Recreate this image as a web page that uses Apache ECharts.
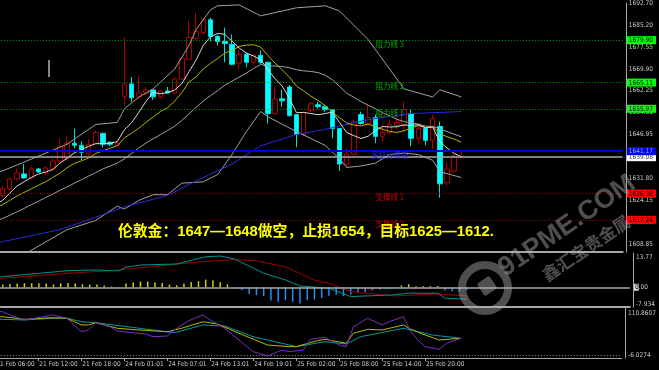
<!DOCTYPE html>
<html><head><meta charset="utf-8">
<script src="https://cdn.jsdelivr.net/npm/echarts@6/dist/echarts.min.js"></script>
<style>html,body{margin:0;padding:0;background:#000;overflow:hidden;width:659px;height:370px;position:relative}#c{position:absolute;left:-20px;top:0;width:679px;height:370px}</style>
</head><body><div id="c"></div>
<script>
// ---------- DATA ----------
const times = ['21 Feb 06:00','21 Feb 07:00','21 Feb 08:00','21 Feb 09:00','21 Feb 10:00','21 Feb 11:00','21 Feb 12:00','21 Feb 13:00','21 Feb 14:00','21 Feb 15:00','21 Feb 16:00','21 Feb 17:00','21 Feb 18:00','21 Feb 19:00','21 Feb 20:00','21 Feb 21:00','21 Feb 22:00','21 Feb 23:00',
'24 Feb 01:01','24 Feb 02:01','24 Feb 03:01','24 Feb 04:01','24 Feb 05:01','24 Feb 06:01','24 Feb 07:01','24 Feb 08:01','24 Feb 09:01','24 Feb 10:01','24 Feb 11:01','24 Feb 12:01','24 Feb 13:01','24 Feb 14:01','24 Feb 15:01','24 Feb 16:01','24 Feb 17:01','24 Feb 18:01','24 Feb 19:01','24 Feb 20:01','24 Feb 21:01','24 Feb 22:01','24 Feb 23:01',
'25 Feb 01:00','25 Feb 02:00','25 Feb 03:00','25 Feb 04:00','25 Feb 05:00','25 Feb 06:00','25 Feb 07:00','25 Feb 08:00','25 Feb 09:00','25 Feb 10:00','25 Feb 11:00','25 Feb 12:00','25 Feb 13:00','25 Feb 14:00','25 Feb 15:00','25 Feb 16:00','25 Feb 17:00','25 Feb 18:00','25 Feb 19:00','25 Feb 20:00','25 Feb 21:00','25 Feb 22:00','25 Feb 23:00',
'26 Feb 00:00','26 Feb 01:00'];
const timeTickLabels = ['21 Feb 06:00','21 Feb 12:00','21 Feb 18:00','24 Feb 01:01','24 Feb 07:01','24 Feb 13:01','24 Feb 19:01','25 Feb 02:00','25 Feb 08:00','25 Feb 14:00','25 Feb 20:00'];

// [open, close, low, high], from 21 Feb 07:00
const ohlc = [
[1625.65,1628.07,1624.96,1629.10],[1628.07,1631.52,1627.38,1631.86],[1631.52,1633.59,1630.83,1634.97],[1633.24,1631.86,1631.52,1636.69],
[1631.86,1634.97,1631.52,1635.65],[1634.97,1633.93,1633.59,1635.31],[1633.59,1635.31,1632.90,1636.00],[1634.97,1637.72,1634.27,1638.41],
[1637.72,1642.89,1637.03,1645.65],[1638.76,1643.93,1637.72,1646.34],[1643.93,1643.24,1642.20,1649.10],[1643.24,1640.82,1638.07,1644.62],
[1640.14,1643.58,1639.45,1645.31],[1643.93,1647.72,1643.58,1648.41],[1647.38,1643.58,1642.55,1647.72],[1644.27,1643.58,1642.89,1644.62],
[1643.24,1643.93,1642.89,1644.27],[1660.13,1664.62,1657.37,1680.82],[1664.62,1659.79,1658.41,1667.03],[1660.13,1661.51,1659.44,1667.37],
[1661.51,1662.55,1660.82,1663.58],[1662.55,1660.13,1659.10,1662.55],[1660.13,1662.20,1659.44,1662.55],[1662.20,1661.51,1661.17,1663.58],
[1661.51,1666.34,1661.17,1667.03],[1666.34,1673.58,1666.00,1673.93],[1673.24,1680.82,1672.89,1686.68],[1680.48,1682.89,1680.13,1689.44],
[1682.55,1687.03,1681.86,1687.72],[1687.03,1681.17,1679.44,1687.72],[1681.17,1679.44,1678.06,1681.86],[1679.44,1678.75,1672.20,1684.27],
[1678.41,1671.51,1671.17,1681.86],[1671.86,1674.96,1669.79,1676.68],[1674.96,1672.20,1670.48,1675.65],[1672.20,1674.62,1671.17,1674.96],
[1674.62,1672.20,1671.51,1676.34],[1672.20,1654.27,1650.82,1672.20],[1654.27,1659.44,1653.93,1663.58],[1659.44,1658.75,1656.69,1662.55],
[1663.58,1653.58,1653.24,1664.27],[1653.93,1647.03,1642.55,1653.93],[1647.03,1654.62,1646.34,1654.96],[1655.31,1657.72,1654.96,1658.41],
[1657.37,1656.69,1656.00,1658.41],[1656.69,1655.65,1654.96,1657.37],[1655.65,1649.10,1645.65,1655.65],[1649.10,1636.69,1634.27,1649.10],
[1636.69,1640.14,1635.31,1642.20],[1640.14,1651.51,1639.79,1652.20],[1653.93,1650.82,1650.48,1654.96],[1650.82,1652.89,1650.48,1657.37],
[1652.89,1646.34,1643.93,1653.93],[1646.34,1647.72,1644.62,1650.48],[1647.72,1650.48,1647.03,1652.20],[1650.13,1651.17,1648.76,1654.27],
[1650.48,1655.65,1648.07,1658.41],[1654.27,1645.65,1642.89,1655.65],[1645.65,1649.10,1643.93,1650.82],[1649.10,1644.96,1643.24,1649.10],
[1644.96,1652.55,1641.86,1653.93],[1649.79,1629.79,1624.96,1651.51],[1630.13,1634.97,1629.10,1637.03],[1634.27,1639.45,1633.59,1640.14],
[1638.90,1639.08,1638.76,1641.17]];

// moving averages (from 21 Feb 06:00)
const ma5 = [1622.5,1624,1626.5,1629,1630.5,1632.0,1633.2,1633.9,1634.8,1637.0,1638.7,1640.6,1641.7,1642.9,1643.8,1643.8,1643.9,1644.5,1648.7,1651.1,1654.7,1658.5,1661.7,1661.2,1661.6,1662.5,1664.7,1668.9,1673.0,1678.1,1681.1,1682.3,1681.9,1679.6,1677.2,1675.4,1674.4,1673.1,1669.7,1666.5,1663.9,1659.7,1654.6,1654.7,1654.3,1653.9,1654.3,1654.8,1651.2,1647.7,1646.6,1645.6,1646.4,1648.3,1649.8,1649.6,1649.7,1650.3,1650.2,1650.4,1649.3,1649.6,1644.4,1642.3,1640.4,1639.2];
const ma10 = [1621.5,1622.5,1624,1625.5,1626.8,1628,1629.3,1630.5,1632,1633.5,1635.4,1636.9,1637.8,1638.8,1640.4,1641.3,1642.2,1643.1,1645.8,1647.5,1649.2,1651.2,1653.1,1655.0,1656.3,1658.6,1661.6,1665.3,1667.1,1669.9,1671.8,1673.5,1675.4,1676.3,1677.7,1678.2,1678.3,1677.5,1674.6,1671.9,1669.6,1667.0,1663.9,1662.2,1660.4,1658.9,1657.0,1654.7,1652.9,1651.0,1650.3,1650.0,1650.6,1649.8,1648.8,1648.1,1647.7,1648.3,1649.2,1650.1,1649.5,1649.7,1647.4,1646.2,1645.4,1644.3];
const bbMid = [1616.8,1617.7,1618.8,1620,1621.2,1622.5,1623.7,1625,1626.2,1627.5,1628.7,1630,1631.2,1632.5,1633.7,1635,1636,1637,1638.5,1640.4,1642.3,1644.0,1645.5,1646.9,1648.4,1649.9,1651.9,1654.2,1656.5,1658.7,1660.5,1662.3,1664.2,1665.6,1667.0,1668.4,1670.0,1671.4,1670.9,1670.9,1670.7,1670.3,1669.6,1669.2,1669.0,1668.6,1667.7,1666.1,1663.8,1661.4,1660.0,1658.5,1657.2,1656.0,1654.6,1653.5,1652.3,1651.5,1651.1,1650.6,1649.9,1649.8,1649.0,1648.0,1647.1,1646.2];
const bbUpper = [[0,1633.5],[1,1634.3],[5,1638.4],[10,1643.6],[14,1650.5],[17,1651.2],[18,1656],[20,1660],[22,1662.9],[25,1669.8],[27,1678],[28,1683.6],[30,1690.5],[31,1691.9],[34,1692.2],[37,1688.4],[42,1691.2],[46,1691.9],[48,1690.1],[52,1680.1],[55,1669.8],[57,1662.9],[61,1660.1],[62,1662.6],[65,1660.1]];
const bbLower = [[0,1600],[1,1601],[5,1606.6],[10,1613.8],[14,1617],[17,1622],[18,1621],[20,1624],[22,1626],[24,1626],[26,1630],[29,1630.5],[31,1633],[33,1640],[35,1648],[37,1655],[38,1653.2],[42,1648],[46,1643.2],[48,1638.5],[49,1635.5],[51,1636],[53,1637],[55,1640],[57,1640.5],[59,1640],[61,1638],[62,1634],[65,1632]];
const maLong = [[0,1609.2],[1,1609.6],[9,1613.8],[15,1619],[18,1621.8],[24,1625.7],[28,1630.8],[33,1636.7],[37,1643],[42,1647],[46,1648.8],[52,1652.2],[58,1654.3],[65,1655]];

// levels
const levelValues = [1679.90,1665.11,1655.97,1641.17,1626.38,1617.24];
const levelNames = ['阻力线 3','阻力线 2','阻力线 1','多空分界线','支撑线 1','支撑线 2'];
const levelKinds = ['res','res','res','piv','sup','sup'];
const bidPrice = 1639.08;
const priceTicks = ['1692.70','1685.20','1677.55','1669.90','1662.25','1654.60','1646.95','1639.30','1631.80','1624.15','1616.50','1608.85'];

// MACD
const macdHist = [0.9,1.09,1.32,1.48,1.6,1.6,1.6,1.48,1.09,1.6,1.73,1.6,1.21,1.09,1.09,0.68,0.28,-0.41,1.48,1.89,2.29,2.29,1.89,1.73,1.07,0.8,1.47,2.14,2.41,3.08,2.81,2.01,1.21,-0.67,-1.21,-2.68,-3.21,-3.62,-5.35,-5.87,-5.22,-5.87,-6.56,-5.22,-4.95,-4.28,-3.37,-2.93,-3.62,-2.93,-1.98,-1.98,-1.21,-0.95,-0.69,-0.26,0.69,1.21,0.43,0.43,0.43,0.52,-1.21,-1.64,-1.64,-1.21];
const macdDif = [[0,4.1],[1,4.26],[5,5.34],[10,6.66],[14,6.95],[17,6.54],[18,8.07],[20,8.95],[25,9.36],[29,12.25],[31,12.57],[33,11.36],[37,5.6],[40,2.95],[42,0.52],[46,-0.4],[49,-3.74],[55,-3.05],[57,-2.37],[61,-2.37],[62,-4.38],[65,-4.78]];
const macdDea = [[0,3.55],[1,3.62],[10,5.62],[16,6.7],[21,8.15],[28,10.16],[33,11.16],[36,10.6],[40,8.19],[44,2.85],[46,1.6],[49,-1.77],[55,-3.5],[61,-2.69],[65,-3.5]];
const macdTicks = ['13.77','0.00','-7.934'];

// KDJ
const kdjJ = [[0,102.6],[1,102.2],[2,94.6],[4,82.9],[5,85.2],[8,94.6],[10,86.8],[12,55.4],[13,59.5],[14,76.5],[16,67.1],[17,57.1],[19,53.1],[21,50.1],[22,43.7],[24,45.4],[25,59.5],[27,81.2],[29,94.6],[30,82.9],[32,63.5],[34,36.1],[36,8.8],[38,-1.4],[40,12.7],[41,8.8],[43,12.7],[44,37.7],[46,42.4],[48,24.4],[49,20.5],[50,67.1],[52,86.8],[54,71.2],[55,78.8],[57,90.5],[58,55.4],[59,36.1],[60,20.5],[62,14.3],[63,28.4],[65,40.1]];
const kdjK = [[0,91],[1,90.5],[3,86.8],[4,84.4],[8,88.2],[10,86.8],[12,71.2],[13,71.2],[14,76.5],[17,63.5],[20,59.5],[24,55.4],[26,63.5],[29,78.8],[31,73.5],[34,51.8],[38,24.4],[41,20.5],[42,20.5],[45,34.5],[46,37.7],[49,28.4],[50,51.8],[52,61.1],[54,59.5],[57,71.2],[58,61.1],[60,47.8],[62,36.1],[65,40.1]];
const kdjD = [[0,84.6],[1,84.4],[4,82.9],[8,86.8],[10,86.8],[12,78.8],[14,76.5],[19,65.8],[25,53.1],[29,71.2],[32,68.8],[36,43.7],[40,28.4],[42,20.5],[46,32.0],[49,26.7],[51,43.7],[57,63.5],[61,47.8],[65,40.1]];
const kdjTicks = ['110.8607','-6.0274'];

const headline = '伦敦金：1647—1648做空，止损1654，目标1625—1612.';

// ---------- CHART ----------
const SH = 20; // canvas is shifted 20px left of the page
const AX = "'Liberation Sans Narrow','DejaVu Sans Condensed','Liberation Sans',sans-serif";
const cats = times.concat(new Array(22).fill(''));
const tickSet = new Set(timeTickLabels);
const GL = SH - 8.175, GR = 29.175, YOFF = 3.175;
const chart = echarts.init(document.getElementById('c'), null, {renderer: 'canvas'});

const levelColor = {res: '#00b000', piv: '#2020ff', sup: '#d00000'};
const levelLine = {res: {color: '#00a000', type: [1, 2], width: 1}, piv: {color: '#0000d0', type: 'solid', width: 2}, sup: {color: '#b00000', type: [1, 2], width: 1}};
const lblBase = {fontSize: 6.5, fontFamily: AX};

function priceFmt(v) {
  const s = v.toFixed(2);
  const i = levelValues.findIndex(x => Math.abs(x - v) < 1e-6);
  if (i >= 0) return '{' + levelKinds[i] + '|' + s + '}';
  if (Math.abs(v - bidPrice) < 1e-6) return '{bid|' + s + '}';
  return '{n|' + s + '}';
}

const xAxisBase = (i) => ({
  type: 'category', gridIndex: i, data: cats, boundaryGap: true,
  axisLine: {show: true, onZero: false, lineStyle: {color: '#a8a8a8', width: i < 2 ? 2 : 1}},
  axisTick: i === 2 ? {show: true, alignWithLabel: true, length: 3, interval: (idx, val) => tickSet.has(val), lineStyle: {color: '#a8a8a8'}} : {show: false},
  axisLabel: i === 2 ? {show: true, interval: (idx, val) => tickSet.has(val), align: 'left', margin: 3, color: '#c8c8c8', fontSize: 6.5, fontFamily: AX, padding: [0, 0, 0, 1]} : {show: false},
  splitLine: {show: false}
});

const yAxisBase = (i, min, max, labels) => ({
  type: 'value', gridIndex: i, position: 'right', offset: YOFF, min: min, max: max, scale: true,
  axisLine: {show: true, lineStyle: {color: '#a8a8a8'}},
  axisTick: {show: false}, splitLine: {show: false},
  axisLabel: labels
});

const WM = 'rgba(175,175,175,0.45)';
const option = {
  backgroundColor: '#000',
  animation: false,
  title: {text: headline, left: SH + 118, top: 225, padding: 0,
    textStyle: {color: '#ffff00', fontSize: 14.8, fontWeight: 'bold', fontFamily: "'Liberation Sans','Noto Sans CJK SC',sans-serif"}},
  grid: [
    {left: GL, right: GR, top: 0, height: 252},
    {left: GL, right: GR, top: 253, height: 54},
    {left: GL, right: GR, top: 308, height: 50}
  ],
  xAxis: [xAxisBase(0), xAxisBase(1), xAxisBase(2)],
  yAxis: [
    yAxisBase(0, 1606.0, 1692.89, {
      show: true, margin: 1, customValues: priceTicks.map(Number).concat([bidPrice], levelValues),
      formatter: priceFmt, color: '#c8c8c8', fontSize: 6.5, fontFamily: AX,
      rich: {
        n: Object.assign({color: '#c8c8c8', padding: [0, 0, 0, 2]}, lblBase),
        res: Object.assign({color: '#000', backgroundColor: '#00ff00', padding: [1, 3, 0, 2]}, lblBase),
        piv: Object.assign({color: '#a0a0ff', backgroundColor: '#0000ff', padding: [1, 3, 0, 2]}, lblBase),
        bid: Object.assign({color: '#404040', backgroundColor: '#ffffff', padding: [1, 3, 0, 2]}, lblBase),
        sup: Object.assign({color: '#000', backgroundColor: '#ff0000', padding: [1, 3, 0, 2]}, lblBase)
      }
    }),
    yAxisBase(1, -7.934, 13.77, {
      show: true, margin: 1, customValues: macdTicks.map(Number),
      formatter: v => v > 0 ? '{t|' + macdTicks[0] + '}' : (v < 0 ? '{b|' + macdTicks[2] + '}' : '{z|0}{n|.00}'),
      rich: {
        t: Object.assign({color: '#c8c8c8', padding: [9, 0, 0, 2]}, lblBase),
        b: Object.assign({color: '#c8c8c8', padding: [0, 0, 6, 2]}, lblBase),
        z: Object.assign({color: '#000', backgroundColor: '#d8d8d8', padding: [0, 0, 0, 1]}, lblBase),
        n: Object.assign({color: '#c8c8c8'}, lblBase)
      }
    }),
    yAxisBase(2, -6.0274, 110.8607, {
      show: true, margin: 1, customValues: kdjTicks.map(Number),
      formatter: v => v > 50 ? '{t|' + kdjTicks[0] + '}' : '{b|' + kdjTicks[1] + '}',
      rich: {
        t: Object.assign({color: '#c8c8c8', padding: [10, 0, 0, 2]}, lblBase),
        b: Object.assign({color: '#c8c8c8', padding: [0, 0, 6, 2]}, lblBase)
      }
    })
  ],
  series: [
    {type: 'candlestick', xAxisIndex: 0, yAxisIndex: 0, barWidth: 5, silent: true,
      data: [['-', '-', '-', '-']].concat(ohlc),
      itemStyle: {color: '#000000', color0: '#00ffff', borderColor: '#b00000', borderColor0: '#00e0e0', borderWidth: 1},
      markLine: {silent: true, symbol: ['none', 'none'], label: {show: false},
        data: [{yAxis: bidPrice, lineStyle: {color: '#a8a8a8', type: 'solid', width: 1.5}}].concat(
          levelValues.map((v, i) => ({yAxis: v, lineStyle: levelLine[levelKinds[i]]})))},
      markPoint: {silent: true, symbol: 'rect', symbolSize: 0,
        data: levelValues.map((v, i) => ({coord: [55, v], name: levelNames[i],
          label: {show: true, position: 'inside', offset: [0, 4], formatter: levelNames[i], color: levelColor[levelKinds[i]], fontSize: 7.5, fontFamily: "'Noto Sans CJK SC',sans-serif"}}))}
    },
    {type: 'line', xAxisIndex: 0, yAxisIndex: 0, data: bbUpper, symbol: 'none', silent: true, lineStyle: {color: '#a0a0a0', width: 1}},
    {type: 'line', xAxisIndex: 0, yAxisIndex: 0, data: bbMid, symbol: 'none', silent: true, lineStyle: {color: '#a0a0a0', width: 1}},
    {type: 'line', xAxisIndex: 0, yAxisIndex: 0, data: bbLower, symbol: 'none', silent: true, lineStyle: {color: '#a0a0a0', width: 1}},
    {type: 'line', xAxisIndex: 0, yAxisIndex: 0, data: maLong, symbol: 'none', silent: true, lineStyle: {color: '#2b2bd8', width: 1}},
    {type: 'line', xAxisIndex: 0, yAxisIndex: 0, data: ma10, symbol: 'none', silent: true, lineStyle: {color: '#b4b400', width: 1}},
    {type: 'line', xAxisIndex: 0, yAxisIndex: 0, data: ma5, symbol: 'none', silent: true, lineStyle: {color: '#d8d8d8', width: 1}},

    {type: 'bar', xAxisIndex: 1, yAxisIndex: 1, data: macdHist, barWidth: 1.5, silent: true,
      itemStyle: {color: p => p.value >= 0 ? '#d0d000' : '#1e8fff'},
      markLine: {silent: true, symbol: ['none', 'none'], label: {show: false}, data: [{yAxis: 0, lineStyle: {color: '#a8a8a8', type: 'solid', width: 1.5}}]}},
    {type: 'line', xAxisIndex: 1, yAxisIndex: 1, data: macdDea, symbol: 'none', silent: true, lineStyle: {color: '#a00000', width: 1}},
    {type: 'line', xAxisIndex: 1, yAxisIndex: 1, data: macdDif, symbol: 'none', silent: true, lineStyle: {color: '#009090', width: 1}},

    {type: 'line', xAxisIndex: 2, yAxisIndex: 2, data: kdjD, symbol: 'none', silent: true, lineStyle: {color: '#009a9a', width: 1},
      markLine: {silent: true, symbol: ['none', 'none'], label: {show: false}, data: [{yAxis: 0, lineStyle: {color: '#909090', type: [1, 2], width: 1}}]}},
    {type: 'line', xAxisIndex: 2, yAxisIndex: 2, data: kdjK, symbol: 'none', silent: true, lineStyle: {color: '#b8b800', width: 1}},
    {type: 'line', xAxisIndex: 2, yAxisIndex: 2, data: kdjJ, symbol: 'none', silent: true, lineStyle: {color: '#7a2fc0', width: 1}}
  ],
  graphic: [
    {type: 'line', z: 100, silent: true, shape: {x1: SH + 49, y1: 60, x2: SH + 49, y2: 77}, style: {stroke: '#e0e0e0', lineWidth: 1.2}},
    {type: 'circle', z: 100, silent: true, shape: {cx: SH + 485, cy: 288, r: 23}, style: {fill: 'none', stroke: WM, lineWidth: 8}},
    {type: 'rect', z: 100, silent: true, x: SH + 487, y: 286, rotation: 0.6, shape: {x: -7.5, y: -7.5, width: 15, height: 15, r: 2}, style: {fill: WM}},
    {type: 'text', z: 100, silent: true, x: SH + 567, y: 226, rotation: 0.6,
      style: {text: '91PME.COM', font: 'bold 27px "Liberation Sans"', fill: WM, align: 'center', verticalAlign: 'middle'}},
    {type: 'text', z: 100, silent: true, x: SH + 586, y: 248, rotation: 0.6,
      style: {text: '鑫汇宝贵金属', font: 'bold 17px "Noto Sans CJK SC"', fill: WM, align: 'center', verticalAlign: 'middle'}}
  ]
};
chart.setOption(option);
</script>
</body></html>
